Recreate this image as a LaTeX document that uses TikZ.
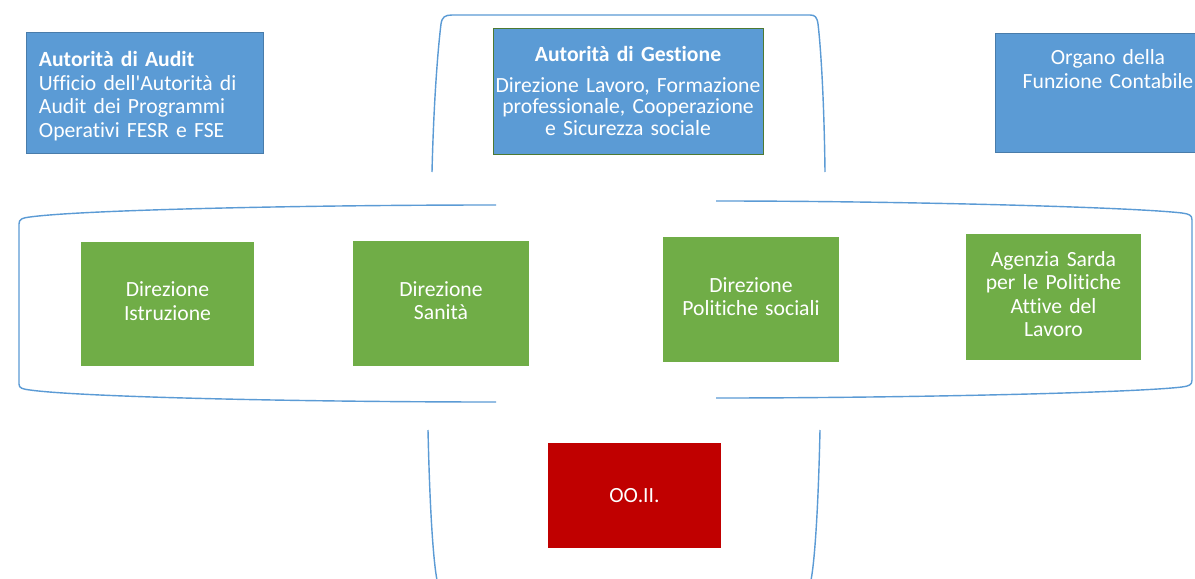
\documentclass[tikz,border=0pt]{standalone}
\usepackage{fontspec}
\setmainfont{Carlito}[Ligatures=NoCommon]
\usepackage{xcolor}
\usepackage{tikz}
\usetikzlibrary{shapes}
\definecolor{azzurro}{HTML}{5B9BD5}
\definecolor{verde}{HTML}{70AD47}
\definecolor{rosso}{HTML}{C00000}
\newcommand{\alzatesto}{\rule[-4.3pt]{0pt}{4.3pt}}
\tikzstyle{block} = [rectangle, inner sep=0pt, text=white, font=\fontsize{15.4pt}{16.7pt}\selectfont]
\tikzstyle{bluebox} = [block, fill=azzurro, draw=azzurro!80!black, line width=0.5pt]
\tikzstyle{greenbox} = [block, fill=verde, text width=4.2cm, align=center, minimum height=3.1cm]
\tikzstyle{curve} = [draw=azzurro, line width=1pt]

\begin{document}
\begin{tikzpicture}[x=0.025cm, y=-0.025cm]
\clip (0,0) rectangle (1195,578);
\fill [white] (0,0) rectangle (1195,578);

% curve a parentesi
\path [curve] (432,172) .. controls (434,90) and (439,40) .. (441,24) .. controls (442,17) and (445,15) .. (452,15) -- (810,15) .. controls (815,15) and (817,17) .. (818,24) .. controls (820,40) and (824,90) .. (825,172);
\path [curve] (428,430) .. controls (430,520) and (434,565) .. (437,580) .. controls (438,587) and (441,590) .. (448,590) -- (801,590) .. controls (808,590) and (810,587) .. (811,580) .. controls (814,565) and (818,520) .. (820,430);
\path [curve] (496,205) .. controls (300,205) and (80,210) .. (30,217) .. controls (22,218) and (19,219) .. (19,224) -- (19,384) .. controls (19,388) and (22,389) .. (30,390) .. controls (80,397) and (300,402) .. (496,402);
\path [curve] (716,201) .. controls (900,201) and (1130,207) .. (1182,213) .. controls (1189,214) and (1192,215) .. (1192,220) -- (1192,380) .. controls (1192,385) and (1189,386) .. (1182,387) .. controls (1130,393) and (900,398) .. (716,398);

% autorita
\node [bluebox, minimum width=5.925cm, minimum height=3.025cm, text width=5.275cm, align=left] (b1) at (144.5,92.5) {\rule{0pt}{15.8pt}\textbf{Autorità di Audit}\\Ufficio dell\textquotesingle Autorità di\\Audit dei Programmi\\Operativi FESR e FSE};
\node [bluebox, draw=verde!70!black, minimum width=6.75cm, minimum height=3.15cm, text width=6.75cm, align=center, font=\fontsize{15.4pt}{15pt}\selectfont] (b2) at (628,91) {\textbf{Autorità di Gestione}\\[7pt]Direzione Lavoro, Formazione\\professionale, Cooperazione\\e Sicurezza sociale};
\node [bluebox, minimum width=5.65cm, minimum height=2.975cm, text width=5.65cm, align=center] (b3) at (1108,92.5) {Organo della\\Funzione Contabile\\\mbox{}\\\mbox{}};

% direzioni
\node [greenbox, minimum width=4.325cm] (b4) at (167.5,304) {Direzione\\Istruzione\alzatesto};
\node [greenbox, minimum width=4.4cm] (b5) at (441,303.5) {Direzione\\Sanità\alzatesto};
\node [greenbox, minimum width=4.4cm] (b6) at (751,299.5) {Direzione\\Politiche sociali\alzatesto};
\node [greenbox, minimum width=4.375cm, minimum height=3.15cm] (b7) at (1053.5,297) {Agenzia Sarda\\per le Politiche\\Attive del\\Lavoro\alzatesto};

% organismi intermedi
\node [block, fill=rosso, minimum width=4.325cm, minimum height=2.625cm] (b8) at (634.5,495.5) {OO.II.};
\end{tikzpicture}
\end{document}
